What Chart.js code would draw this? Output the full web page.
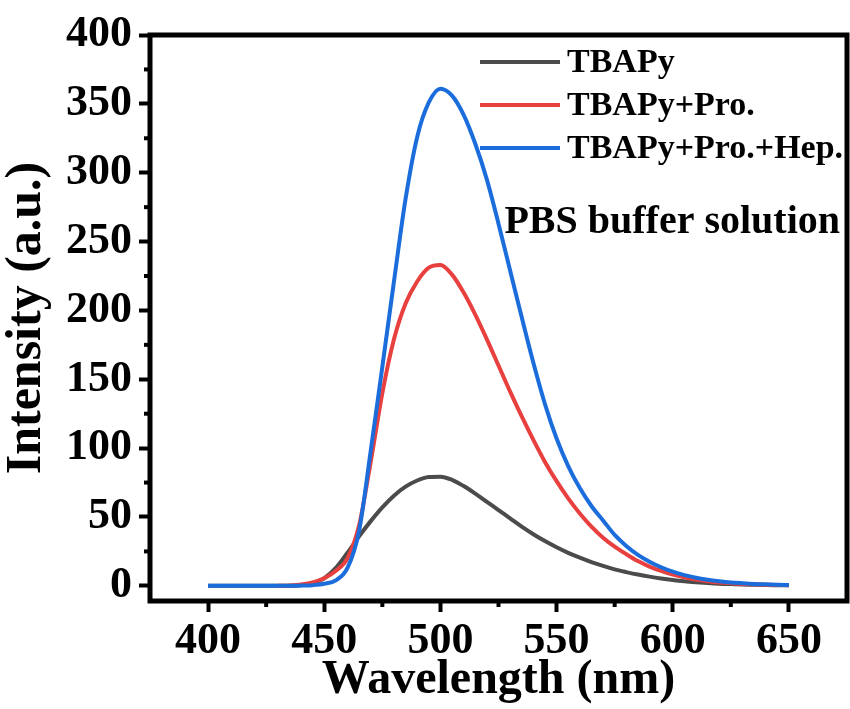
<!DOCTYPE html>
<html>
<head>
<meta charset="utf-8">
<script src="https://cdn.jsdelivr.net/npm/chart.js@4.4.1/dist/chart.umd.min.js"></script>
<style>
  html, body { margin: 0; padding: 0; background: #fff; }
  #wrap { width: 850px; height: 709px; }
</style>
</head>
<body>
<div id="wrap"><canvas id="chart" width="850" height="709"></canvas></div>
<script>
// wavelength (nm)
const wavelengths = [400, 405, 410, 415, 420, 425, 430, 435, 440, 445,
  450, 455, 460, 465, 470, 475, 480, 485, 490, 495,
  500, 505, 510, 515, 520, 525, 530, 535, 540, 545,
  550, 555, 560, 565, 570, 575, 580, 585, 590, 595,
  600, 605, 610, 615, 620, 625, 630, 635, 640, 645, 650];

// intensity (a.u.)
const tbapy = [0, 0, 0, 0, 0, 0, 0, 0, 0.5, 2,
  5.5, 13, 24, 36, 47, 57, 65.5, 72, 76.5, 79,
  79.3, 77, 72.5, 67, 61, 55, 49, 43, 37.5, 32.5,
  28, 24, 20.5, 17.3, 14.5, 12, 10, 8.2, 6.7, 5.4,
  4.3, 3.4, 2.7, 2.1, 1.6, 1.3, 1, 0.8, 0.6, 0.5, 0.4];

const tbapyPro = [null, null, null, null, null, null, 0, 0.3, 1, 2.5,
  5.5, 11, 20, 44, 90, 140, 179, 205, 221, 231,
  233, 226, 213, 197, 179, 160, 141, 123, 106, 90,
  76, 63.5, 52.5, 43, 35, 28.5, 23, 18, 14, 10.8,
  8.2, 6.2, 4.6, 3.4, 2.5, 1.9, 1.4, 1.1, 0.8, 0.6, 0.5];

const tbapyProHep = [0, 0, 0, 0, 0, 0, 0, 0, 0.2, 0.5,
  1.5, 4, 13, 40, 98, 159, 221, 281, 326, 351,
  361, 356, 342, 321, 295, 263, 229, 195, 162, 132,
  107, 87, 71, 58, 47.5, 37, 29, 22.5, 17.5, 13.5,
  10.3, 7.8, 5.9, 4.5, 3.4, 2.5, 1.9, 1.4, 1.1, 0.8, 0.6];

const seriesNames = ['TBAPy', 'TBAPy+Pro.', 'TBAPy+Pro.+Hep.'];
const seriesColors = ['#4b4b4b', '#e8403e', '#1c6ddc'];
const noteText = 'PBS buffer solution';

const xMajor = [400, 450, 500, 550, 600, 650];
const xMinor = [425, 475, 525, 575, 625];
const yMajor = [0, 50, 100, 150, 200, 250, 300, 350, 400];
const yMinor = [25, 75, 125, 175, 225, 275, 325, 375];

const serif = "'Liberation Serif', 'Times New Roman', serif";

const toPoints = ys => wavelengths.map((x, i) => ({ x, y: ys[i] }));

// frame, minor ticks, legend and note
const decor = {
  id: 'decor',
  afterDraw(chart) {
    const { ctx, chartArea: a, scales: { x, y } } = chart;
    ctx.save();
    ctx.strokeStyle = '#000';
    ctx.lineWidth = 4;
    xMinor.forEach(v => {
      const px = x.getPixelForValue(v);
      ctx.beginPath(); ctx.moveTo(px, a.bottom); ctx.lineTo(px, a.bottom + 6); ctx.stroke();
    });
    yMinor.forEach(v => {
      const py = y.getPixelForValue(v);
      ctx.beginPath(); ctx.moveTo(a.left, py); ctx.lineTo(a.left - 6, py); ctx.stroke();
    });
    ctx.lineWidth = 5;
    ctx.strokeRect(a.left, a.top, a.right - a.left, a.bottom - a.top);

    // legend
    ctx.font = 'bold 34px ' + serif;
    ctx.textBaseline = 'middle';
    ctx.textAlign = 'left';
    seriesNames.forEach((name, i) => {
      const ly = a.top + 27 + i * 43;
      ctx.strokeStyle = seriesColors[i];
      ctx.lineWidth = 4;
      ctx.beginPath(); ctx.moveTo(a.right - 367, ly); ctx.lineTo(a.right - 287, ly); ctx.stroke();
      ctx.fillStyle = '#000';
      ctx.fillText(name, a.right - 280, ly + 1);
    });

    ctx.font = 'bold 40px ' + serif;
    ctx.textAlign = 'right';
    ctx.fillText(noteText, a.right - 7, a.top + 188);
    ctx.restore();
  }
};

const tickFont = { family: serif, size: 44, weight: 'bold' };

new Chart(document.getElementById('chart'), {
  type: 'line',
  data: {
    datasets: [
      { label: seriesNames[0], data: toPoints(tbapy), borderColor: seriesColors[0], order: 2 },
      { label: seriesNames[1], data: toPoints(tbapyPro), borderColor: seriesColors[1], order: 1 },
      { label: seriesNames[2], data: toPoints(tbapyProHep), borderColor: seriesColors[2], order: 0 }
    ]
  },
  options: {
    responsive: false,
    animation: false,
    layout: { padding: { top: 35, right: 3, left: 0, bottom: 0 } },
    elements: {
      point: { radius: 0 },
      line: { borderWidth: 4, cubicInterpolationMode: 'monotone', fill: false }
    },
    plugins: { legend: { display: false }, tooltip: { enabled: false } },
    scales: {
      x: {
        type: 'linear', min: 375, max: 675,
        afterBuildTicks: s => { s.ticks = xMajor.map(v => ({ value: v })); },
        afterFit: s => { s.height = 108; },
        border: { display: false },
        grid: { drawOnChartArea: false, tickLength: 11, tickWidth: 4, tickColor: '#000' },
        ticks: { font: tickFont, color: '#000', padding: 3, maxRotation: 0, autoSkip: false },
        title: {
          display: true, text: 'Wavelength (nm)', color: '#000',
          font: { family: serif, size: 48, weight: 'bold', lineHeight: 1 },
          padding: { top: 0, bottom: 4 }
        }
      },
      y: {
        min: -11, max: 400,
        afterBuildTicks: s => { s.ticks = yMajor.map(v => ({ value: v })); },
        afterFit: s => { s.width = 150; },
        border: { display: false },
        grid: { drawOnChartArea: false, tickLength: 11, tickWidth: 4, tickColor: '#000' },
        ticks: { font: tickFont, color: '#000', padding: 7, autoSkip: false },
        title: {
          display: true, text: 'Intensity (a.u.)', color: '#000',
          font: { family: serif, size: 50, weight: 'bold', lineHeight: 1 },
          padding: { top: 2, bottom: 0 }
        }
      }
    }
  },
  plugins: [decor]
});
</script>
</body>
</html>
